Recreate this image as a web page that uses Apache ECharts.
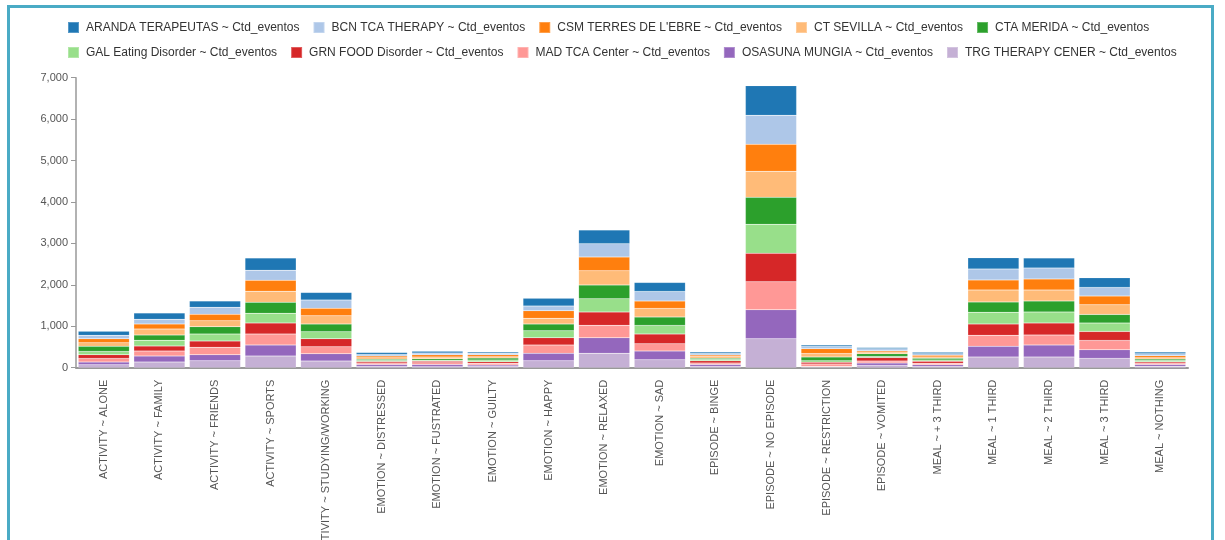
<!DOCTYPE html>
<html>
<head>
<meta charset="utf-8">
<script src="https://cdn.jsdelivr.net/npm/echarts@6/dist/echarts.min.js"></script>
<style>
  html, body { margin: 0; padding: 0; background: #fff; }
  #frame { position: absolute; left: 0; top: 0; width: 1225px; height: 540px; overflow: hidden; }
  #border { position: absolute; left: 7px; top: 5px; width: 1207px; height: 600px;
            border: 3px solid #4aabc5; box-sizing: border-box; }
  #chart { position: absolute; left: 0; top: 0; width: 1225px; height: 540px; }
</style>
</head>
<body>
<div id="frame">
  <div id="border"></div>
  <div id="chart"></div>
</div>
<script>
// Categories along the x axis
const categories = [
  'ACTIVITY ~ ALONE', 'ACTIVITY ~ FAMILY', 'ACTIVITY ~ FRIENDS', 'ACTIVITY ~ SPORTS',
  'ACTIVITY ~ STUDYING/WORKING', 'EMOTION ~ DISTRESSED', 'EMOTION ~ FUSTRATED', 'EMOTION ~ GUILTY',
  'EMOTION ~ HAPPY', 'EMOTION ~ RELAXED', 'EMOTION ~ SAD', 'EPISODE ~ BINGE',
  'EPISODE ~ NO EPISODE', 'EPISODE ~ RESTRICTION', 'EPISODE ~ VOMITED', 'MEAL ~ + 3 THIRD',
  'MEAL ~ 1 THIRD', 'MEAL ~ 2 THIRD', 'MEAL ~ 3 THIRD', 'MEAL ~ NOTHING'
];

// Event counts per center (one value per category)
const aranda   = [97, 153, 153, 298, 185, 45, 45, 30, 185, 330, 217, 40, 716, 40, 32, 35, 266, 241, 233, 40];
const bcn      = [80, 113, 169, 241, 201, 35, 45, 40, 113, 322, 233, 35, 700, 50, 48, 35, 266, 266, 209, 48];
const csm      = [97, 121, 153, 266, 177, 45, 50, 45, 185, 330, 177, 35, 652, 120, 32, 40, 241, 266, 209, 48];
const ctSev    = [89, 145, 145, 266, 201, 35, 45, 30, 137, 346, 209, 40, 628, 80, 40, 30, 290, 266, 233, 32];
const ctaMer   = [121, 129, 177, 266, 185, 30, 35, 50, 161, 330, 201, 35, 652, 90, 64, 45, 250, 266, 209, 32];
const gal      = [80, 137, 169, 233, 169, 25, 25, 40, 169, 322, 209, 30, 700, 40, 24, 30, 282, 266, 201, 32];
const grn      = [89, 121, 153, 266, 193, 35, 35, 40, 177, 322, 233, 50, 684, 40, 89, 45, 274, 290, 217, 32];
const mad      = [89, 121, 177, 266, 169, 40, 45, 40, 201, 298, 177, 40, 676, 60, 48, 40, 266, 241, 225, 32];
const osasuna  = [64, 145, 145, 266, 177, 45, 50, 35, 177, 378, 209, 45, 700, 15, 56, 40, 258, 290, 209, 48];
const trg      = [72, 137, 169, 282, 161, 30, 25, 30, 169, 346, 193, 30, 700, 15, 56, 30, 258, 258, 225, 32];

// Y axis ticks
const yTicks = [0, 1000, 2000, 3000, 4000, 5000, 6000, 7000];

const seriesNames = [
  'ARANDA TERAPEUTAS ~ Ctd_eventos', 'BCN TCA THERAPY ~ Ctd_eventos', "CSM TERRES DE L'EBRE ~ Ctd_eventos",
  'CT SEVILLA ~ Ctd_eventos', 'CTA MERIDA ~ Ctd_eventos', 'GAL Eating Disorder ~ Ctd_eventos',
  'GRN FOOD Disorder ~ Ctd_eventos', 'MAD TCA Center ~ Ctd_eventos', 'OSASUNA MUNGIA ~ Ctd_eventos',
  'TRG THERAPY CENER ~ Ctd_eventos'
];
const seriesData = [aranda, bcn, csm, ctSev, ctaMer, gal, grn, mad, osasuna, trg];
const colors = ['#1f77b4', '#aec7e8', '#ff7f0e', '#ffbb78', '#2ca02c',
                '#98df8a', '#d62728', '#ff9896', '#9467bd', '#c5b0d5'];

// Stack from the last center (bottom) to the first (top)
const series = [];
for (let i = seriesNames.length - 1; i >= 0; i--) {
  series.push({
    name: seriesNames[i],
    type: 'bar',
    stack: 'total',
    data: seriesData[i],
    barCategoryGap: '8%',
    itemStyle: { color: colors[i], borderColor: 'rgba(255,255,255,0.25)', borderWidth: 0.5 }
  });
}

const legendCommon = {
  left: 62,
  itemWidth: 11,
  itemHeight: 11,
  itemGap: 13,
  icon: 'rect',
  textStyle: { fontFamily: 'Liberation Sans, Arial, sans-serif', fontSize: 12, color: '#333', padding: [0, 0, 0, 2] }
};

const chart = echarts.init(document.getElementById('chart'), null, { renderer: 'canvas' });
chart.setOption({
  animation: false,
  color: colors,
  legend: [
    Object.assign({ top: 16, data: seriesNames.slice(0, 5) }, legendCommon),
    Object.assign({ top: 41, data: seriesNames.slice(5) }, legendCommon)
  ],
  grid: { left: 76, right: 37, top: 77.7, bottom: 172.3, containLabel: false, outerBoundsMode: 'none' },
  xAxis: {
    type: 'category',
    data: categories,
    axisLine: { lineStyle: { color: '#999', width: 2 } },
    axisTick: { show: false },
    axisLabel: {
      rotate: 90, interval: 0, margin: 12,
      fontFamily: 'Liberation Sans, Arial, sans-serif', fontSize: 11, color: '#555'
    }
  },
  yAxis: {
    type: 'value',
    min: yTicks[0],
    max: yTicks[yTicks.length - 1],
    interval: yTicks[1] - yTicks[0],
    splitLine: { show: false },
    axisLine: { show: true, lineStyle: { color: '#999', width: 1.5 } },
    axisTick: { show: true, length: 5, lineStyle: { color: '#999' } },
    axisLabel: {
      margin: 8,
      fontFamily: 'Liberation Sans, Arial, sans-serif', fontSize: 11, color: '#555',
      formatter: v => v.toLocaleString('en-US')
    }
  },
  series: series
});
</script>
</body>
</html>
